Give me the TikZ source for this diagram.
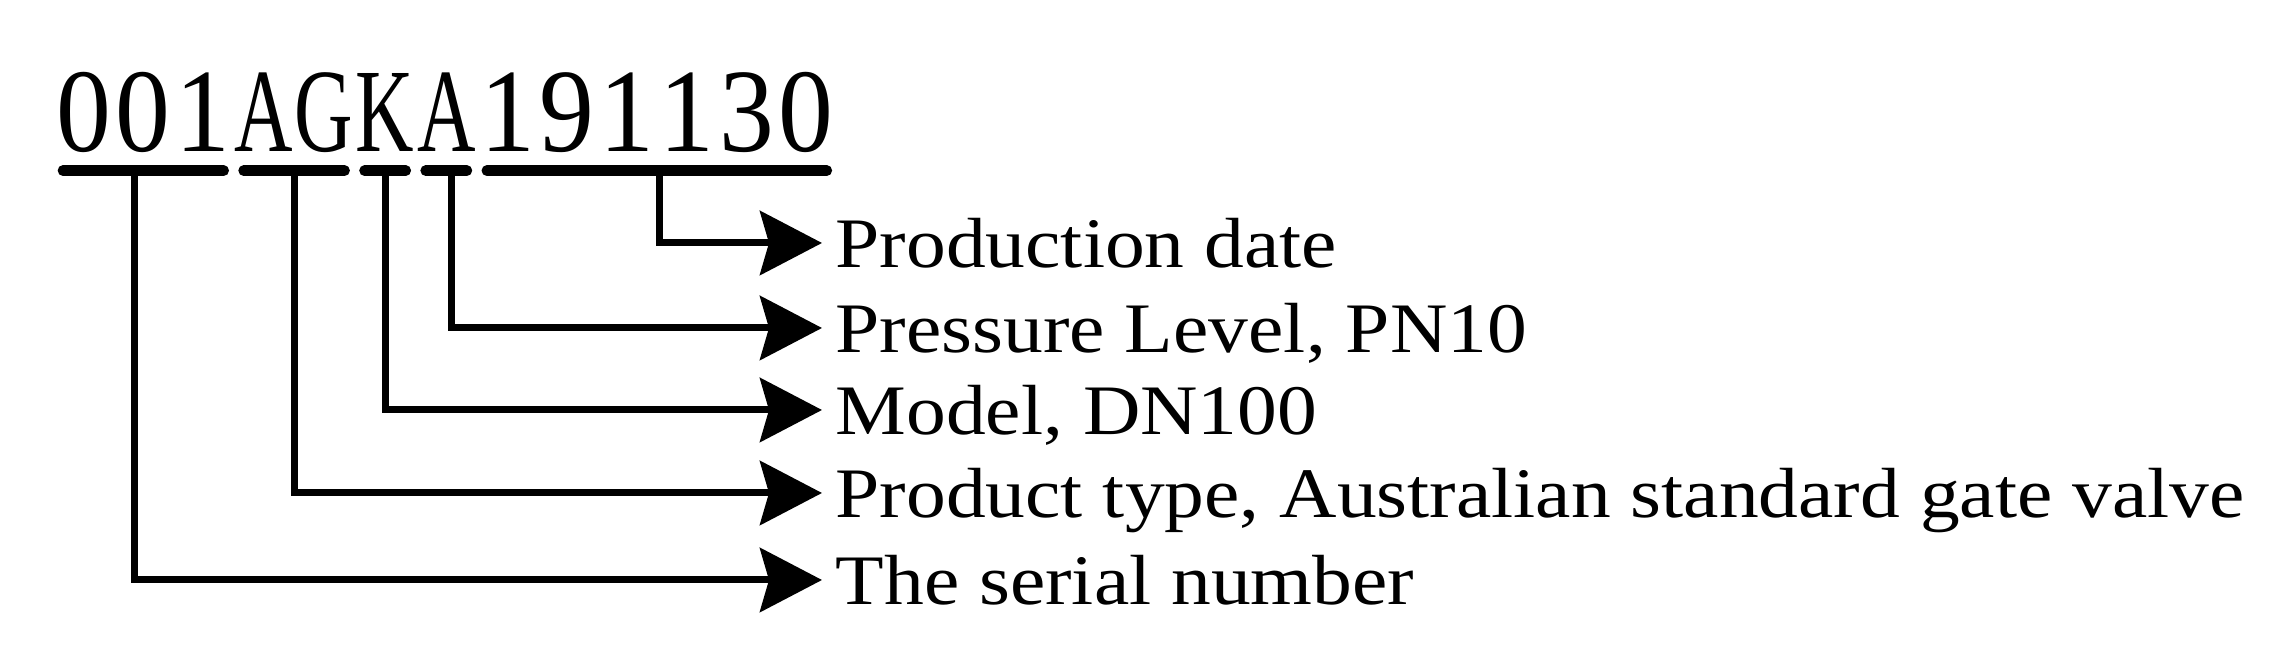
\documentclass[tikz,border=0pt]{standalone}
\usepackage{fontspec}
\setmainfont{Liberation Serif}
\newfontfamily\lblfont[FakeStretch=1.12]{Liberation Serif}
\newfontfamily\numfont[FakeStretch=0.92]{Liberation Serif}
\newfontfamily\letfont[FakeStretch=0.68]{Liberation Serif}
\usetikzlibrary{positioning,arrows.meta}
\newcommand\cdig[1]{\makebox[0.5975cm]{\numfont #1}}
\newcommand\clet[1]{\makebox[0.5975cm]{\letfont #1}}
\tikzset{
code/.style={inner xsep=0pt, inner ysep=0.18cm, text height=0.85cm, text depth=0pt, font=\fontsize{33.9}{40}\selectfont},
bar/.style={line width=0.107cm, line cap=round, shorten <=0.1cm, shorten >=0.1cm},
conn/.style={line width=0.07cm, -{Stealth[length=0.62cm, width=0.64cm, inset=0.09cm]}},
lbl/.style={anchor=base west, inner sep=0pt, font=\fontsize{20.2}{24}\lblfont},
}
\begin{document}
\begin{tikzpicture}
\useasboundingbox (0,0) rectangle (22.78,6.62);

% code groups
\node[code, anchor=base west] (g1) at (0.53,5.10) {\cdig0\cdig0\cdig1};
\node[code, right=0pt of g1] (g2) {\clet A\clet G};
\node[code, right=0pt of g2] (g3) {\clet K};
\node[code, right=0pt of g3] (g4) {\clet A};
\node[code, right=0pt of g4] (g5) {\cdig1\cdig9\cdig1\cdig1\cdig3\cdig0};

\foreach \g in {g1,g2,g3,g4,g5}
  \draw[bar] (\g.south west) -- (\g.south east);

% meanings
\node[lbl] (l1) at (8.35,3.94) {Production date};
\node[lbl] (l2) at (8.35,3.09) {Pressure Level, PN10};
\node[lbl] (l3) at (8.35,2.27) {Model, DN100};
\node[lbl] (l4) at (8.35,1.44) {Product type, Australian standard gate valve};
\node[lbl] (l5) at (8.35,0.57) {The serial number};

\foreach \g/\l/\dx in {g5/l1/0.03,g4/l2/0.05,g3/l3/0,g2/l4/0,g1/l5/-0.09}
  \draw[conn] ([xshift=\dx cm]\g.south) |- ([xshift=-0.13cm,yshift=0.25cm]\l.base west);
\end{tikzpicture}
\end{document}
